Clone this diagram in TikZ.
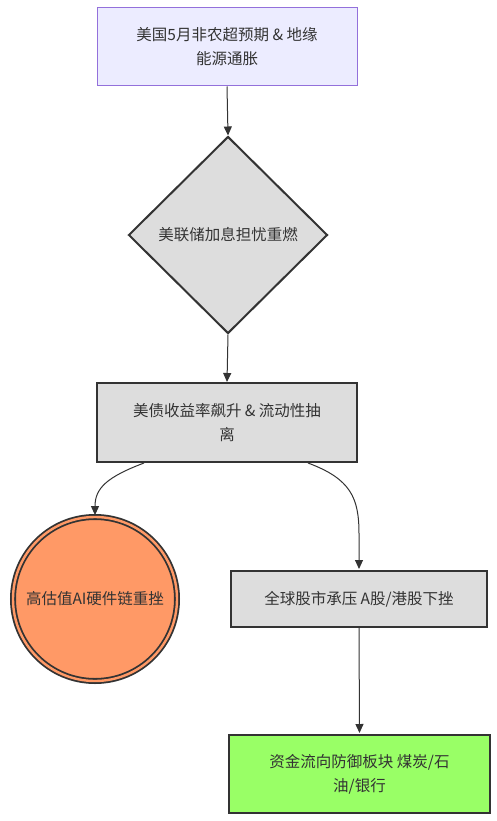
\documentclass[tikz,border=0pt]{standalone}
\usepackage{fontspec}
\newfontfamily\cjk{Noto Sans CJK SC}
\usetikzlibrary{shapes.geometric,arrows.meta,calc}
\definecolor{txt}{HTML}{333333}
\definecolor{ln}{HTML}{333333}
\definecolor{purfill}{HTML}{ECECFF}
\definecolor{purline}{HTML}{9370DB}
\definecolor{grayfill}{HTML}{DDDDDD}
\definecolor{orfill}{HTML}{FF9966}
\definecolor{grfill}{HTML}{99FF66}
\tikzset{
  base/.style={font=\cjk\fontsize{15.5}{24}\selectfont, text=txt, align=center, inner sep=0pt},
  boxA/.style={base, draw=purline, fill=purfill, line width=1pt, minimum width=260pt, minimum height=78pt},
  boxG/.style={base, draw=ln, fill=grayfill, line width=2pt},
  dia/.style={base, diamond, draw=ln, fill=grayfill, line width=2pt, minimum width=199pt, minimum height=197pt, aspect=1},
  conn/.style={draw=ln, line width=1pt, -{Triangle[length=9pt,width=8pt]}},
}
\begin{document}
\begin{tikzpicture}[x=1pt,y=-1pt]
\useasboundingbox (0,0) rectangle (497,821);
\node[boxA] (n1) at (227,47) {美国5月非农超预期 \& 地缘\\能源通胀};
\node[dia] (n2) at (228,235) {美联储加息担忧重燃};
\node[boxG, minimum width=260pt, minimum height=79pt] (n3) at (227,422.5) {美债收益率飙升 \& 流动性抽\\离};
\node[base, circle, draw=ln, fill=orfill, line width=1.8pt, minimum size=164pt, double=orfill, double distance=2.4pt] (n4) at (95,599) {高估值AI硬件链重挫};
\node[boxG, minimum width=256pt, minimum height=56pt] (n5) at (359,599) {全球股市承压 A股/港股下挫};
\node[boxG, minimum width=261pt, minimum height=78pt, fill=grfill] (n6) at (359.5,774) {资金流向防御板块 煤炭/石\\油/银行};
\draw[conn] (n1.south) -- (n2.north);
\draw[conn] (n2.south) -- (n3.north);
\draw[conn] ($(n3.south)+(-83,0)$) .. controls ($(n3.south)+(-120,14)$) and ($(n4.north)+(0,-28)$) .. ($(n4.north)+(0,-1)$);
\draw[conn] ($(n3.south)+(81,0)$) .. controls ($(n3.south)+(124,16)$) and ($(n5.north)+(0,-72)$) .. ($(n5.north)+(0,-36)$) -- ($(n5.north)+(0,-1)$);
\draw[conn] (n5.south) -- ($(n6.north)+(0,-1)$);
\end{tikzpicture}
\end{document}
